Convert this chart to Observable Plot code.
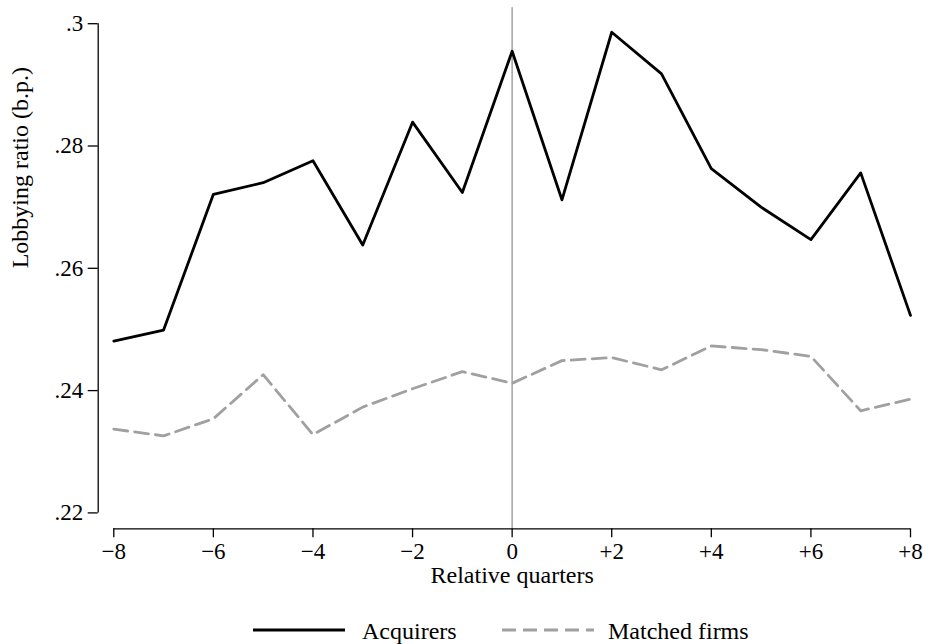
<!DOCTYPE html>
<html>
<head>
<meta charset="utf-8">
<script src="https://cdn.jsdelivr.net/npm/d3@7"></script>
<script src="https://cdn.jsdelivr.net/npm/@observablehq/plot@0.6"></script>
<style>
  html, body { margin: 0; padding: 0; background: #fff; }
  #chart svg { display: block; }
  #legend { position: relative; width: 925px; height: 54px; font-family: "Liberation Serif", "Times New Roman", serif; font-size: 24px; color: #000; }
  #legend .sw { position: absolute; top: 37px; }
  #legend .lb { position: absolute; top: 28px; line-height: 26px; white-space: nowrap; }
</style>
</head>
<body>
<div id="chart"></div>
<div id="legend">
  <svg class="sw" style="left:253px" width="92" height="6"><line x1="0" x2="92" y1="3" y2="3" stroke="#000" stroke-width="2.8"/></svg>
  <span class="lb" style="left:362px">Acquirers</span>
  <svg class="sw" style="left:502px" width="92" height="6"><line x1="0" x2="92" y1="3" y2="3" stroke="#a0a0a0" stroke-width="2.8" stroke-dasharray="14,7"/></svg>
  <span class="lb" style="left:608px">Matched firms</span>
</div>
<script>
const quarters = [-8, -7, -6, -5, -4, -3, -2, -1, 0, 1, 2, 3, 4, 5, 6, 7, 8];
const acquirers = [0.2481, 0.2499, 0.2721, 0.2740, 0.2776, 0.2638, 0.2839, 0.2724, 0.2955, 0.2712, 0.2986, 0.2918, 0.2763, 0.2700, 0.2647, 0.2756, 0.2523];
const matched = [0.2337, 0.2326, 0.2354, 0.2426, 0.2328, 0.2373, 0.2403, 0.2431, 0.2412, 0.2449, 0.2454, 0.2434, 0.2473, 0.2467, 0.2456, 0.2367, 0.2386];
const xTicks = [-8, -6, -4, -2, 0, 2, 4, 6, 8];
const xTickLabels = ["\u22128", "\u22126", "\u22124", "\u22122", "0", "+2", "+4", "+6", "+8"];
const yTicks = [0.22, 0.24, 0.26, 0.28, 0.30];
const yTickLabels = [".22", ".24", ".26", ".28", ".3"];
const xLabel = "Relative quarters";
const yLabel = "Lobbying ratio (b.p.)";

const acqData = quarters.map((q, i) => ({q, v: acquirers[i]}));
const matData = quarters.map((q, i) => ({q, v: matched[i]}));

const xMin = -8.313, yMin = 0.2174, yMax = 0.3026;
const TICK_FS = 23, TITLE_FS = 24;

const chart = Plot.plot({
  width: 925,
  height: 590,
  marginTop: 7.3,
  marginBottom: 61.7,
  marginLeft: 97.7,
  marginRight: 15,
  style: { fontFamily: "'Liberation Serif', 'Times New Roman', serif", color: "#000", background: "#fff" },
  x: { domain: [xMin, 8] },
  y: { domain: [yMin, yMax] },
  marks: [
    Plot.ruleX([0], { stroke: "#a8a8a8", strokeWidth: 1.6 }),
    Plot.line(matData, { x: "q", y: "v", stroke: "#a0a0a0", strokeWidth: 2.8, strokeDasharray: "14,7" }),
    Plot.line(acqData, { x: "q", y: "v", stroke: "#000", strokeWidth: 2.8 }),
    Plot.ruleX([xMin], { y1: yTicks[0], y2: yTicks[yTicks.length - 1], stroke: "#000", strokeWidth: 1.3 }),
    Plot.ruleY([yMin], { x1: xTicks[0], x2: xTicks[xTicks.length - 1], stroke: "#000", strokeWidth: 1.3 }),
    Plot.axisY(yTicks, { tickSize: 10, tickPadding: 5, strokeWidth: 1.3, fontSize: TICK_FS, tickFormat: (d, i) => yTickLabels[i], label: null }),
    Plot.axisX(xTicks, { tickSize: 9, tickPadding: 5, strokeWidth: 1.3, fontSize: TICK_FS, tickFormat: (d, i) => xTickLabels[i], label: null }),
    Plot.text([xLabel], { x: [0], frameAnchor: "bottom", dy: 54, fontSize: TITLE_FS, text: d => d, fill: "#000" }),
    Plot.text([yLabel], { y: [0.26], frameAnchor: "left", dx: -78.2, rotate: -90, fontSize: TITLE_FS, text: d => d, fill: "#000" })
  ]
});
document.getElementById("chart").appendChild(chart);
</script>
</body>
</html>
